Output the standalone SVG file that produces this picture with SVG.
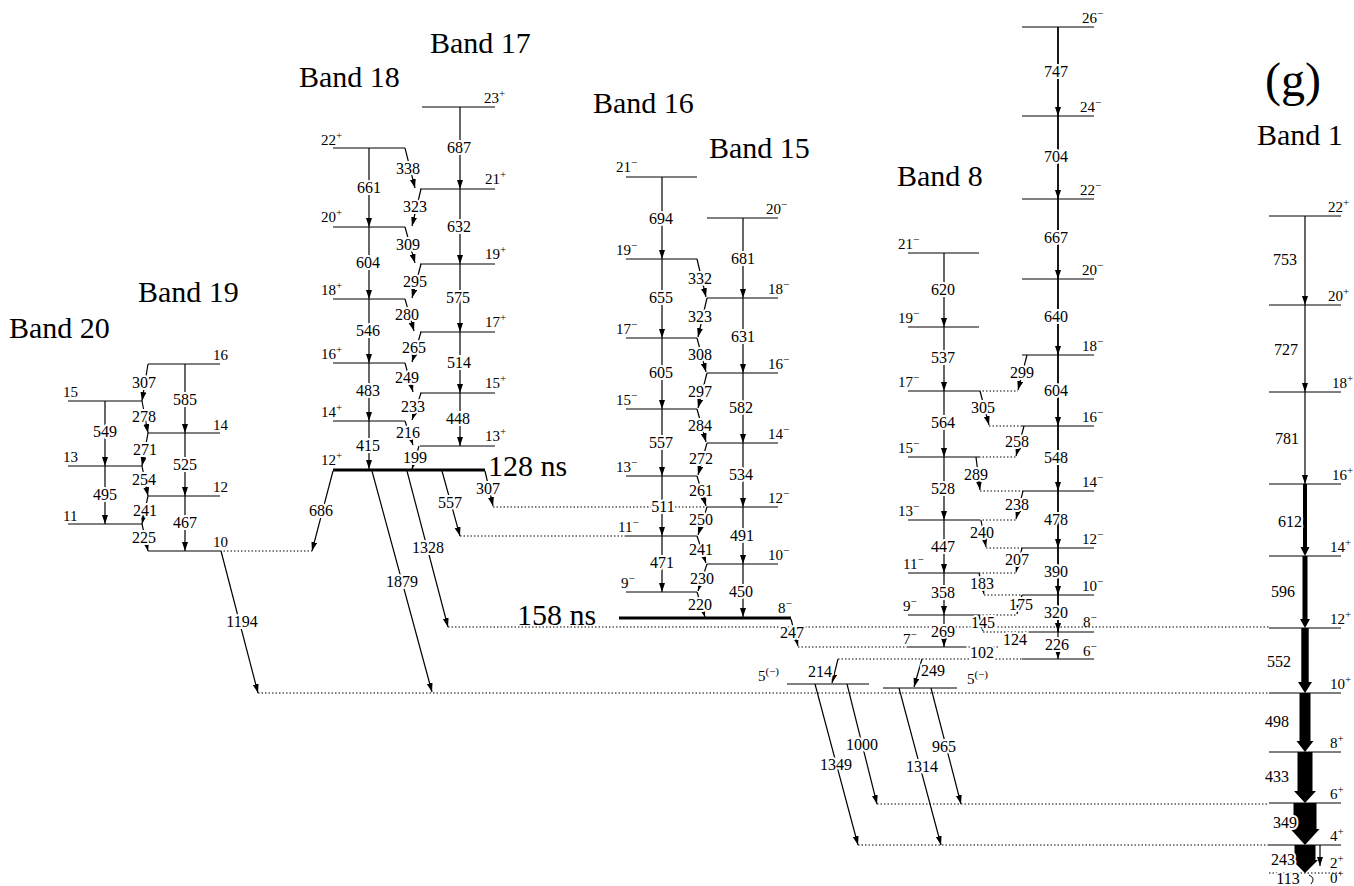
<svg xmlns="http://www.w3.org/2000/svg" width="1354" height="886" viewBox="0 0 1354 886">
<defs>
<style>
.lv{stroke:#000;stroke-width:1;fill:none}
.lk{stroke:#000;stroke-width:3;fill:none}
.dt{stroke:#000;stroke-width:1;stroke-dasharray:1.5 2;fill:none}
.tr{stroke:#000;stroke-width:1.2;fill:none;marker-end:url(#ah)}
.tb{stroke:#000;stroke-width:1.8;fill:none;marker-end:url(#ah)}
.fat{fill:#000;stroke:none}
text{font-family:"Liberation Serif","Times New Roman",serif;fill:#000}
.tl{font-size:16px;text-anchor:middle;stroke:#fff;stroke-width:4;stroke-linejoin:round;paint-order:stroke}
.sp{font-size:15px}
.su{font-size:11px}
.ti{font-size:30px}
</style>
<marker id="ah" markerUnits="userSpaceOnUse" markerWidth="10" markerHeight="8" refX="9" refY="3" orient="auto"><path d="M0,0 L9,3 L0,6 z" fill="#000"/></marker>
</defs>
<rect width="1354" height="886" fill="#fff"/>

<g id="titles">
<text class="ti" x="9" y="338">Band 20</text>
<text class="ti" x="138" y="302">Band 19</text>
<text class="ti" x="299" y="87">Band 18</text>
<text class="ti" x="430" y="53">Band 17</text>
<text class="ti" x="593" y="113">Band 16</text>
<text class="ti" x="709" y="158">Band 15</text>
<text class="ti" x="897" y="186">Band 8</text>
<text class="ti" x="1257" y="145">Band 1</text>
<text x="1265" y="96" style="font-size:48px">(g)</text>
<text class="ti" x="488" y="476">128 ns</text>
<text class="ti" x="517" y="625">158 ns</text>
</g>

<!-- Band 20 -->
<g id="b20-15"><line class="lv" x1="68" y1="401" x2="142" y2="401"/><text class="sp" x="63" y="397">15</text></g>
<g id="b20-13"><line class="lv" x1="68" y1="466" x2="142" y2="466"/><text class="sp" x="63" y="462">13</text></g>
<g id="b20-11"><line class="lv" x1="68" y1="524" x2="142" y2="524"/><text class="sp" x="63" y="521">11</text></g>
<!-- Band 19 -->
<g id="b19-16"><line class="lv" x1="148" y1="364" x2="220" y2="364"/><text class="sp" x="213" y="360">16</text></g>
<g id="b19-14"><line class="lv" x1="148" y1="433" x2="220" y2="433"/><text class="sp" x="213" y="430">14</text></g>
<g id="b19-12"><line class="lv" x1="148" y1="496" x2="220" y2="496"/><text class="sp" x="213" y="492">12</text></g>
<g id="b19-10"><line class="lv" x1="148" y1="551" x2="220" y2="551"/><text class="sp" x="213" y="547">10</text></g>
<!-- Band 18 -->
<g id="b18-22"><line class="lv" x1="333" y1="148" x2="405" y2="148"/><text class="sp" x="321" y="145">22<tspan class="su" dy="-6">+</tspan></text></g>
<g id="b18-20"><line class="lv" x1="333" y1="227" x2="405" y2="227"/><text class="sp" x="321" y="222">20<tspan class="su" dy="-6">+</tspan></text></g>
<g id="b18-18"><line class="lv" x1="333" y1="299" x2="405" y2="299"/><text class="sp" x="321" y="295">18<tspan class="su" dy="-6">+</tspan></text></g>
<g id="b18-16"><line class="lv" x1="333" y1="363" x2="405" y2="363"/><text class="sp" x="321" y="359">16<tspan class="su" dy="-6">+</tspan></text></g>
<g id="b18-14"><line class="lv" x1="333" y1="421" x2="405" y2="421"/><text class="sp" x="321" y="417">14<tspan class="su" dy="-6">+</tspan></text></g>
<g id="b18-12"><line class="lk" x1="333" y1="470" x2="485" y2="470"/><text class="sp" x="321" y="465">12<tspan class="su" dy="-6">+</tspan></text></g>
<!-- Band 17 -->
<g id="b17-23"><line class="lv" x1="422" y1="107" x2="495" y2="107"/><text class="sp" x="484" y="103">23<tspan class="su" dy="-6">+</tspan></text></g>
<g id="b17-21"><line class="lv" x1="420" y1="189" x2="495" y2="189"/><text class="sp" x="485" y="184">21<tspan class="su" dy="-6">+</tspan></text></g>
<g id="b17-19"><line class="lv" x1="420" y1="264" x2="495" y2="264"/><text class="sp" x="485" y="259">19<tspan class="su" dy="-6">+</tspan></text></g>
<g id="b17-17"><line class="lv" x1="420" y1="332" x2="495" y2="332"/><text class="sp" x="485" y="327">17<tspan class="su" dy="-6">+</tspan></text></g>
<g id="b17-15"><line class="lv" x1="420" y1="393" x2="495" y2="393"/><text class="sp" x="485" y="388">15<tspan class="su" dy="-6">+</tspan></text></g>
<g id="b17-13"><line class="lv" x1="420" y1="446" x2="495" y2="446"/><text class="sp" x="485" y="441">13<tspan class="su" dy="-6">+</tspan></text></g>
<!-- Band 16 -->
<g id="b16-21"><line class="lv" x1="626" y1="177" x2="697" y2="177"/><text class="sp" x="616" y="172">21<tspan class="su" dy="-6">−</tspan></text></g>
<g id="b16-19"><line class="lv" x1="626" y1="259" x2="697" y2="259"/><text class="sp" x="616" y="255">19<tspan class="su" dy="-6">−</tspan></text></g>
<g id="b16-17"><line class="lv" x1="626" y1="338" x2="697" y2="338"/><text class="sp" x="616" y="334">17<tspan class="su" dy="-6">−</tspan></text></g>
<g id="b16-15"><line class="lv" x1="626" y1="409" x2="697" y2="409"/><text class="sp" x="616" y="405">15<tspan class="su" dy="-6">−</tspan></text></g>
<g id="b16-13"><line class="lv" x1="626" y1="476" x2="697" y2="476"/><text class="sp" x="616" y="472">13<tspan class="su" dy="-6">−</tspan></text></g>
<g id="b16-11"><line class="lv" x1="626" y1="536" x2="697" y2="536"/><text class="sp" x="618" y="532">11<tspan class="su" dy="-6">−</tspan></text></g>
<g id="b16-9"><line class="lv" x1="626" y1="592" x2="697" y2="592"/><text class="sp" x="621" y="588">9<tspan class="su" dy="-6">−</tspan></text></g>
<g id="b16-8"><line class="lk" x1="619" y1="618" x2="791" y2="618"/><text class="sp" x="778" y="613">8<tspan class="su" dy="-6">−</tspan></text></g>
<!-- Band 15 -->
<g id="b15-20"><line class="lv" x1="707" y1="218" x2="778" y2="218"/><text class="sp" x="766" y="214">20<tspan class="su" dy="-6">−</tspan></text></g>
<g id="b15-18"><line class="lv" x1="707" y1="298" x2="778" y2="298"/><text class="sp" x="768" y="294">18<tspan class="su" dy="-6">−</tspan></text></g>
<g id="b15-16"><line class="lv" x1="707" y1="373" x2="778" y2="373"/><text class="sp" x="768" y="369">16<tspan class="su" dy="-6">−</tspan></text></g>
<g id="b15-14"><line class="lv" x1="707" y1="443" x2="778" y2="443"/><text class="sp" x="768" y="439">14<tspan class="su" dy="-6">−</tspan></text></g>
<g id="b15-12"><line class="lv" x1="707" y1="507" x2="778" y2="507"/><text class="sp" x="768" y="503">12<tspan class="su" dy="-6">−</tspan></text></g>
<g id="b15-10"><line class="lv" x1="707" y1="564" x2="778" y2="564"/><text class="sp" x="768" y="560">10<tspan class="su" dy="-6">−</tspan></text></g>
<!-- Band 8 left -->
<g id="b8-21"><line class="lv" x1="908" y1="253" x2="979" y2="253"/><text class="sp" x="898" y="249">21<tspan class="su" dy="-6">−</tspan></text></g>
<g id="b8-19"><line class="lv" x1="908" y1="327" x2="979" y2="327"/><text class="sp" x="898" y="323">19<tspan class="su" dy="-6">−</tspan></text></g>
<g id="b8-17"><line class="lv" x1="908" y1="391" x2="979" y2="391"/><text class="sp" x="898" y="387">17<tspan class="su" dy="-6">−</tspan></text></g>
<g id="b8-15"><line class="lv" x1="908" y1="457" x2="979" y2="457"/><text class="sp" x="898" y="453">15<tspan class="su" dy="-6">−</tspan></text></g>
<g id="b8-13"><line class="lv" x1="908" y1="520" x2="979" y2="520"/><text class="sp" x="898" y="516">13<tspan class="su" dy="-6">−</tspan></text></g>
<g id="b8-11"><line class="lv" x1="908" y1="573" x2="979" y2="573"/><text class="sp" x="903" y="569">11<tspan class="su" dy="-6">−</tspan></text></g>
<g id="b8-9"><line class="lv" x1="908" y1="615" x2="979" y2="615"/><text class="sp" x="903" y="611">9<tspan class="su" dy="-6">−</tspan></text></g>
<g id="b8-7"><line class="lv" x1="908" y1="647" x2="965" y2="647"/><text class="sp" x="903" y="644">7<tspan class="su" dy="-6">−</tspan></text></g>
<!-- Band 8 right -->
<g id="b8-26"><line class="lv" x1="1022" y1="27" x2="1094" y2="27"/><text class="sp" x="1082" y="23">26<tspan class="su" dy="-6">−</tspan></text></g>
<g id="b8-24"><line class="lv" x1="1022" y1="116" x2="1094" y2="116"/><text class="sp" x="1080" y="112">24<tspan class="su" dy="-6">−</tspan></text></g>
<g id="b8-22"><line class="lv" x1="1022" y1="199" x2="1094" y2="199"/><text class="sp" x="1080" y="195">22<tspan class="su" dy="-6">−</tspan></text></g>
<g id="b8-20"><line class="lv" x1="1022" y1="279" x2="1094" y2="279"/><text class="sp" x="1082" y="275">20<tspan class="su" dy="-6">−</tspan></text></g>
<g id="b8-18"><line class="lv" x1="1022" y1="355" x2="1094" y2="355"/><text class="sp" x="1082" y="351">18<tspan class="su" dy="-6">−</tspan></text></g>
<g id="b8-16"><line class="lv" x1="1022" y1="426" x2="1094" y2="426"/><text class="sp" x="1082" y="422">16<tspan class="su" dy="-6">−</tspan></text></g>
<g id="b8-14"><line class="lv" x1="1022" y1="491" x2="1094" y2="491"/><text class="sp" x="1082" y="487">14<tspan class="su" dy="-6">−</tspan></text></g>
<g id="b8-12"><line class="lv" x1="1022" y1="548" x2="1094" y2="548"/><text class="sp" x="1082" y="544">12<tspan class="su" dy="-6">−</tspan></text></g>
<g id="b8-10"><line class="lv" x1="1022" y1="595" x2="1094" y2="595"/><text class="sp" x="1082" y="591">10<tspan class="su" dy="-6">−</tspan></text></g>
<g id="b8-8"><line class="lv" x1="1030" y1="632" x2="1094" y2="632"/><text class="sp" x="1083" y="627">8<tspan class="su" dy="-6">−</tspan></text></g>
<g id="b8-6"><line class="lv" x1="1022" y1="659" x2="1094" y2="659"/><text class="sp" x="1083" y="656">6<tspan class="su" dy="-6">−</tspan></text></g>
<g id="b8-5a"><line class="lv" x1="787" y1="684" x2="869" y2="684"/><text class="sp" x="758" y="681">5<tspan class="su" dy="-6">(−)</tspan></text></g>
<g id="b8-5b"><line class="lv" x1="883" y1="688" x2="957" y2="688"/><text class="sp" x="967" y="684">5<tspan class="su" dy="-6">(−)</tspan></text></g>
<!-- Band 1 -->
<g id="b1-22"><line class="lv" x1="1269" y1="216" x2="1341" y2="216"/><text class="sp" x="1328" y="212">22<tspan class="su" dy="-6">+</tspan></text></g>
<g id="b1-20"><line class="lv" x1="1269" y1="305" x2="1341" y2="305"/><text class="sp" x="1328" y="301">20<tspan class="su" dy="-6">+</tspan></text></g>
<g id="b1-18"><line class="lv" x1="1269" y1="392" x2="1341" y2="392"/><text class="sp" x="1332" y="388">18<tspan class="su" dy="-6">+</tspan></text></g>
<g id="b1-16"><line class="lv" x1="1269" y1="484" x2="1341" y2="484"/><text class="sp" x="1332" y="480">16<tspan class="su" dy="-6">+</tspan></text></g>
<g id="b1-14"><line class="lv" x1="1269" y1="556" x2="1341" y2="556"/><text class="sp" x="1330" y="552">14<tspan class="su" dy="-6">+</tspan></text></g>
<g id="b1-12"><line class="lv" x1="1269" y1="628" x2="1341" y2="628"/><text class="sp" x="1330" y="624">12<tspan class="su" dy="-6">+</tspan></text></g>
<g id="b1-10"><line class="lv" x1="1269" y1="693" x2="1341" y2="693"/><text class="sp" x="1330" y="689">10<tspan class="su" dy="-6">+</tspan></text></g>
<g id="b1-8"><line class="lv" x1="1269" y1="752" x2="1341" y2="752"/><text class="sp" x="1330" y="748">8<tspan class="su" dy="-6">+</tspan></text></g>
<g id="b1-6"><line class="lv" x1="1269" y1="803" x2="1341" y2="803"/><text class="sp" x="1330" y="799">6<tspan class="su" dy="-6">+</tspan></text></g>
<g id="b1-4"><line class="lv" x1="1269" y1="845" x2="1341" y2="845"/><text class="sp" x="1330" y="841">4<tspan class="su" dy="-6">+</tspan></text></g>
<g id="b1-2"><text class="sp" x="1330" y="868">2<tspan class="su" dy="-6">+</tspan></text></g>
<g id="b1-0"><line class="dt" x1="1269" y1="873" x2="1341" y2="873"/><text class="sp" x="1330" y="883">0<tspan class="su" dy="-6">+</tspan></text></g>

<g id="connectors">
<!-- dotted feeders -->
<path class="dt" d="M220,551H312 M493,507H707 M460,536H626 M448,627H1269 M798,647H908 M965,647H1000 M838,659H1022 M258,693H1269 M877,804H1269 M858,845H1269"/>
<path class="dt" d="M979,391H1018 M989,426H1022 M979,457H1016 M980,491H1022 M979,520H1016 M986,548H1022 M979,573H1016 M984,595H1022 M979,615H1017 M983,632H1030"/>
<!-- Band 20 / 19 -->
<line class="tr" x1="105" y1="401" x2="105" y2="466"/>
<line class="tr" x1="105" y1="466" x2="105" y2="524"/>
<line class="tr" x1="185" y1="364" x2="185" y2="433"/>
<line class="tr" x1="185" y1="433" x2="185" y2="496"/>
<line class="tr" x1="185" y1="496" x2="185" y2="551"/>
<line class="tr" x1="148" y1="364" x2="142" y2="401"/>
<line class="tr" x1="142" y1="401" x2="148" y2="433"/>
<line class="tr" x1="148" y1="433" x2="142" y2="466"/>
<line class="tr" x1="142" y1="466" x2="148" y2="496"/>
<line class="tr" x1="148" y1="496" x2="142" y2="524"/>
<line class="tr" x1="142" y1="524" x2="148" y2="551"/>
<line class="tr" x1="221" y1="551" x2="258" y2="693"/>
<!-- Band 18 / 17 -->
<line class="tr" x1="369" y1="148" x2="369" y2="227"/>
<line class="tr" x1="369" y1="227" x2="369" y2="299"/>
<line class="tr" x1="369" y1="299" x2="369" y2="363"/>
<line class="tr" x1="369" y1="363" x2="369" y2="421"/>
<line class="tr" x1="369" y1="421" x2="369" y2="469"/>
<line class="tr" x1="460" y1="107" x2="460" y2="189"/>
<line class="tr" x1="460" y1="189" x2="460" y2="264"/>
<line class="tr" x1="460" y1="264" x2="460" y2="332"/>
<line class="tr" x1="460" y1="332" x2="460" y2="393"/>
<line class="tr" x1="460" y1="393" x2="460" y2="446"/>
<line class="tr" x1="405" y1="148" x2="415" y2="188"/>
<line class="tr" x1="421" y1="189" x2="412" y2="226"/>
<line class="tr" x1="405" y1="227" x2="415" y2="263"/>
<line class="tr" x1="421" y1="264" x2="412" y2="298"/>
<line class="tr" x1="405" y1="299" x2="414" y2="331"/>
<line class="tr" x1="421" y1="332" x2="412" y2="362"/>
<line class="tr" x1="405" y1="363" x2="413" y2="392"/>
<line class="tr" x1="421" y1="393" x2="412" y2="420"/>
<line class="tr" x1="405" y1="421" x2="413" y2="445"/>
<line class="tr" x1="419" y1="446" x2="412" y2="469"/>
<line class="tr" x1="333" y1="471" x2="312" y2="551"/>
<line class="tr" x1="372" y1="471" x2="432" y2="692"/>
<line class="tr" x1="407" y1="471" x2="448" y2="627"/>
<line class="tr" x1="442" y1="471" x2="460" y2="536"/>
<line class="tr" x1="485" y1="471" x2="493" y2="506"/>
<!-- Band 16 / 15 -->
<line class="tr" x1="662" y1="177" x2="662" y2="259"/>
<line class="tr" x1="662" y1="259" x2="662" y2="338"/>
<line class="tr" x1="662" y1="338" x2="662" y2="409"/>
<line class="tr" x1="662" y1="409" x2="662" y2="476"/>
<line class="tr" x1="662" y1="476" x2="662" y2="536"/>
<line class="tr" x1="662" y1="536" x2="662" y2="592"/>
<line class="tr" x1="743" y1="218" x2="743" y2="298"/>
<line class="tr" x1="743" y1="298" x2="743" y2="373"/>
<line class="tr" x1="743" y1="373" x2="743" y2="443"/>
<line class="tr" x1="743" y1="443" x2="743" y2="507"/>
<line class="tr" x1="743" y1="507" x2="743" y2="564"/>
<line class="tr" x1="743" y1="564" x2="743" y2="617"/>
<line class="tr" x1="697" y1="259" x2="706" y2="297"/>
<line class="tr" x1="707" y1="298" x2="698" y2="337"/>
<line class="tr" x1="697" y1="338" x2="706" y2="372"/>
<line class="tr" x1="707" y1="373" x2="698" y2="408"/>
<line class="tr" x1="697" y1="409" x2="706" y2="442"/>
<line class="tr" x1="707" y1="443" x2="698" y2="475"/>
<line class="tr" x1="697" y1="476" x2="706" y2="506"/>
<line class="tr" x1="707" y1="507" x2="698" y2="535"/>
<line class="tr" x1="697" y1="536" x2="706" y2="563"/>
<line class="tr" x1="707" y1="564" x2="698" y2="591"/>
<line class="tr" x1="697" y1="592" x2="705" y2="617"/>
<line class="tr" x1="791" y1="619" x2="798" y2="646"/>
<!-- Band 8 -->
<line class="tr" x1="944" y1="253" x2="944" y2="327"/>
<line class="tr" x1="944" y1="327" x2="944" y2="391"/>
<line class="tr" x1="944" y1="391" x2="944" y2="457"/>
<line class="tr" x1="944" y1="457" x2="944" y2="520"/>
<line class="tr" x1="944" y1="520" x2="944" y2="573"/>
<line class="tr" x1="944" y1="573" x2="944" y2="615"/>
<line class="tr" x1="944" y1="615" x2="944" y2="647"/>
<line class="tb" x1="1058" y1="27" x2="1058" y2="116"/>
<line class="tb" x1="1058" y1="116" x2="1058" y2="199"/>
<line class="tb" x1="1058" y1="199" x2="1058" y2="279"/>
<line class="tb" x1="1058" y1="279" x2="1058" y2="355"/>
<line class="tb" x1="1058" y1="355" x2="1058" y2="426"/>
<line class="tb" x1="1058" y1="426" x2="1058" y2="491"/>
<line class="tb" x1="1058" y1="491" x2="1058" y2="548"/>
<line class="tb" x1="1058" y1="548" x2="1058" y2="595"/>
<line class="tb" x1="1058" y1="595" x2="1058" y2="632"/>
<line class="tr" x1="1058" y1="632" x2="1058" y2="659"/>
<line class="tr" x1="1027" y1="355" x2="1018" y2="390"/>
<line class="tr" x1="980" y1="391" x2="989" y2="425"/>
<line class="tr" x1="1024" y1="426" x2="1016" y2="456"/>
<line class="tr" x1="976" y1="457" x2="980" y2="490"/>
<line class="tr" x1="1023" y1="491" x2="1016" y2="519"/>
<line class="tr" x1="981" y1="520" x2="986" y2="547"/>
<line class="tr" x1="1022" y1="548" x2="1016" y2="572"/>
<line class="tr" x1="979" y1="573" x2="984" y2="594"/>
<line class="tr" x1="1022" y1="595" x2="1017" y2="614"/>
<line class="tr" x1="979" y1="615" x2="983" y2="631"/>
<line class="tr" x1="838" y1="659" x2="832" y2="683"/>
<line class="tr" x1="922" y1="659" x2="914" y2="687"/>
<line class="tr" x1="815" y1="684" x2="858" y2="845"/>
<line class="tr" x1="847" y1="684" x2="877" y2="804"/>
<line class="tr" x1="899" y1="688" x2="941" y2="845"/>
<line class="tr" x1="931" y1="688" x2="961" y2="804"/>
<!-- Band 1 -->
<line class="tr" x1="1305" y1="216" x2="1305" y2="305"/>
<line class="tr" x1="1305" y1="305" x2="1305" y2="392"/>
<line class="tr" x1="1305" y1="392" x2="1305" y2="484"/>
<polygon class="fat" points="1303,484 1307,484 1307,547 1309.5,547 1305,556 1300.5,547 1303,547"/>
<polygon class="fat" points="1302.5,556 1307.5,556 1307.5,619 1310,619 1305,628 1300,619 1302.5,619"/>
<polygon class="fat" points="1301.3,628 1308.7,628 1308.7,682 1312,682 1305,693 1298,682 1301.3,682"/>
<polygon class="fat" points="1299.5,693 1310.5,693 1310.5,741 1313.5,741 1305,752 1296.5,741 1299.5,741"/>
<polygon class="fat" points="1297.5,752 1312.5,752 1312.5,791 1316,791 1305,803 1294,791 1297.5,791"/>
<polygon class="fat" points="1293.5,803 1316.5,803 1316.5,829 1319.5,829 1305,845 1290.5,829 1293.5,829"/>
<polygon class="fat" points="1294.5,845 1315.5,845 1315.5,860 1318,860 1305,873 1292,860 1294.5,860"/>
<line class="tr" x1="1320" y1="845" x2="1320" y2="866"/>
<path d="M1309,875 Q1316,878 1311,884" stroke="#000" stroke-width="1" fill="none"/>

<!-- transition labels -->
<text class="tl" x="105" y="437">549</text>
<text class="tl" x="105" y="500">495</text>
<text class="tl" x="185" y="405">585</text>
<text class="tl" x="185" y="470">525</text>
<text class="tl" x="185" y="528">467</text>
<text class="tl" x="144" y="388">307</text>
<text class="tl" x="144" y="422">278</text>
<text class="tl" x="145" y="455">271</text>
<text class="tl" x="144" y="485">254</text>
<text class="tl" x="145" y="516">241</text>
<text class="tl" x="144" y="543">225</text>
<text class="tl" x="242" y="627">1194</text>

<text class="tl" x="369" y="193">661</text>
<text class="tl" x="368" y="268">604</text>
<text class="tl" x="368" y="336">546</text>
<text class="tl" x="368" y="396">483</text>
<text class="tl" x="368" y="451">415</text>
<text class="tl" x="459" y="153">687</text>
<text class="tl" x="459" y="232">632</text>
<text class="tl" x="458" y="303">575</text>
<text class="tl" x="459" y="368">514</text>
<text class="tl" x="458" y="424">448</text>
<text class="tl" x="408" y="174">338</text>
<text class="tl" x="415" y="212">323</text>
<text class="tl" x="408" y="250">309</text>
<text class="tl" x="415" y="287">295</text>
<text class="tl" x="407" y="320">280</text>
<text class="tl" x="414" y="353">265</text>
<text class="tl" x="407" y="383">249</text>
<text class="tl" x="413" y="412">233</text>
<text class="tl" x="408" y="438">216</text>
<text class="tl" x="415" y="463">199</text>
<text class="tl" x="321" y="516">686</text>
<text class="tl" x="402" y="587">1879</text>
<text class="tl" x="428" y="553">1328</text>
<text class="tl" x="450" y="508">557</text>
<text class="tl" x="488" y="494">307</text>

<text class="tl" x="661" y="224">694</text>
<text class="tl" x="743" y="264">681</text>
<text class="tl" x="661" y="303">655</text>
<text class="tl" x="743" y="342">631</text>
<text class="tl" x="661" y="378">605</text>
<text class="tl" x="741" y="413">582</text>
<text class="tl" x="661" y="448">557</text>
<text class="tl" x="741" y="480">534</text>
<text class="tl" x="663" y="512">511</text>
<text class="tl" x="742" y="541">491</text>
<text class="tl" x="662" y="568">471</text>
<text class="tl" x="741" y="597">450</text>
<text class="tl" x="700" y="284">332</text>
<text class="tl" x="700" y="322">323</text>
<text class="tl" x="700" y="360">308</text>
<text class="tl" x="700" y="397">297</text>
<text class="tl" x="700" y="431">284</text>
<text class="tl" x="701" y="464">272</text>
<text class="tl" x="701" y="496">261</text>
<text class="tl" x="701" y="525">250</text>
<text class="tl" x="701" y="555">241</text>
<text class="tl" x="702" y="584">230</text>
<text class="tl" x="700" y="610">220</text>
<text class="tl" x="792" y="638">247</text>

<text class="tl" x="943" y="295">620</text>
<text class="tl" x="943" y="363">537</text>
<text class="tl" x="943" y="428">564</text>
<text class="tl" x="943" y="494">528</text>
<text class="tl" x="943" y="552">447</text>
<text class="tl" x="943" y="598">358</text>
<text class="tl" x="943" y="637">269</text>
<text class="tl" x="1056" y="77">747</text>
<text class="tl" x="1056" y="162">704</text>
<text class="tl" x="1056" y="243">667</text>
<text class="tl" x="1056" y="322">640</text>
<text class="tl" x="1056" y="396">604</text>
<text class="tl" x="1056" y="463">548</text>
<text class="tl" x="1056" y="525">478</text>
<text class="tl" x="1056" y="577">390</text>
<text class="tl" x="1056" y="618">320</text>
<text class="tl" x="1057" y="650">226</text>
<text class="tl" x="1022" y="378">299</text>
<text class="tl" x="983" y="413">305</text>
<text class="tl" x="1017" y="447">258</text>
<text class="tl" x="976" y="480">289</text>
<text class="tl" x="1017" y="510">238</text>
<text class="tl" x="982" y="538">240</text>
<text class="tl" x="1017" y="565">207</text>
<text class="tl" x="982" y="589">183</text>
<text class="tl" x="1021" y="610">175</text>
<text class="tl" x="983" y="628">145</text>
<text class="tl" x="1015" y="645">124</text>
<text class="tl" x="982" y="658">102</text>
<text class="tl" x="820" y="677">214</text>
<text class="tl" x="933" y="676">249</text>
<text class="tl" x="862" y="750">1000</text>
<text class="tl" x="836" y="770">1349</text>
<text class="tl" x="922" y="772">1314</text>
<text class="tl" x="944" y="752">965</text>

<text class="tl" x="1285" y="265">753</text>
<text class="tl" x="1286" y="355">727</text>
<text class="tl" x="1287" y="444">781</text>
<text class="tl" x="1290" y="527">612</text>
<text class="tl" x="1283" y="597">596</text>
<text class="tl" x="1279" y="667">552</text>
<text class="tl" x="1277" y="727">498</text>
<text class="tl" x="1277" y="782">433</text>
<text class="tl" x="1285" y="828">349</text>
<text class="tl" x="1283" y="865">243</text>
<text class="tl" x="1288" y="884">113</text>
</g>
</svg>
